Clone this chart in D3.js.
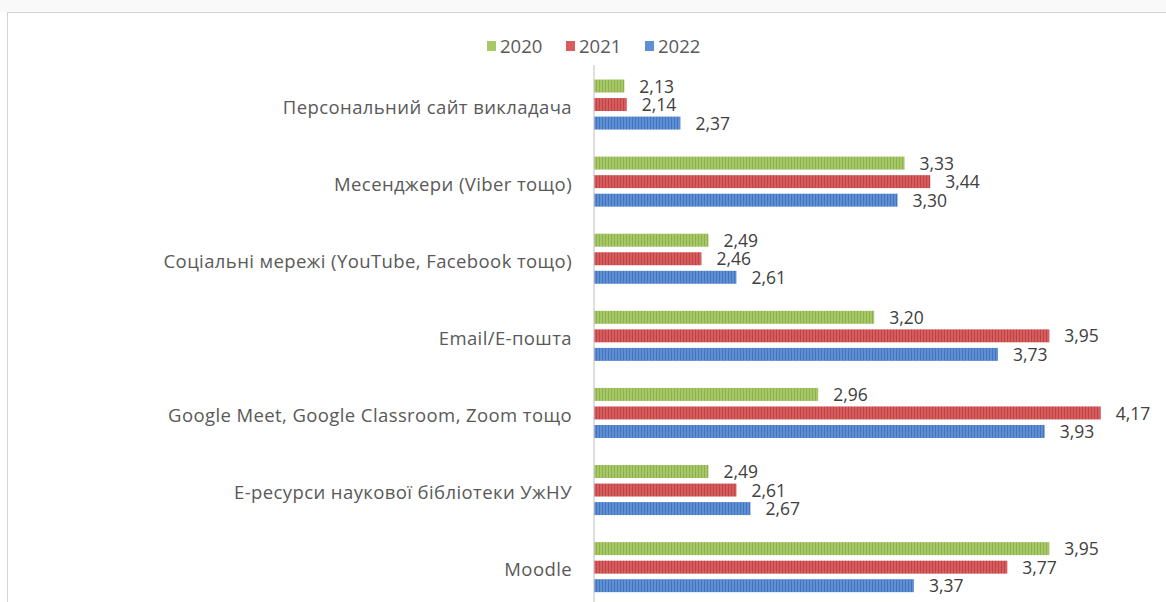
<!DOCTYPE html>
<html>
<head>
<meta charset="utf-8">
<script src="https://cdn.jsdelivr.net/npm/d3@7"></script>
<style>
	body { margin: 0; background: #fff; }
	svg { display: block; }
</style>
</head>
<body>
<div id="chart"></div>
<script>

const categories = [
	"Персональний сайт викладача",
	"Месенджери (Viber тощо)",
	"Соціальні мережі (YouTube, Facebook тощо)",
	"Email/Е-пошта",
	"Google Meet, Google Classroom, Zoom тощо",
	"Е-ресурси наукової бібліотеки УжНУ",
	"Moodle"
]
const years = ["2020", "2021", "2022"]
const values2020 = [2.13, 3.33, 2.49, 3.20, 2.96, 2.49, 3.95]
const values2021 = [2.14, 3.44, 2.46, 3.95, 4.17, 2.61, 3.77]
const values2022 = [2.37, 3.30, 2.61, 3.73, 3.93, 2.67, 3.37]

const width = 1166
const height = 602
const fontFamily = "'Open Sans', 'Noto Sans', sans-serif"
const fontSize = 18.5
const valueFontSize = 17.5

const series = [values2020, values2021, values2022]
const colors = [
	{ base: "#a6c866", stripe: "#8daf4e" },
	{ base: "#d85c5e", stripe: "#bb4446" },
	{ base: "#5e8fd5", stripe: "#4474ba" }
]

const svg = d3.select("#chart").append("svg")
	.attr("width", width)
	.attr("height", height)

// stripe patterns for bars
const defs = svg.append("defs")
colors.forEach((c, i) => {
	const p = defs.append("pattern")
		.attr("id", `stripe-${i}`)
		.attr("patternUnits", "userSpaceOnUse")
		.attr("width", 3)
		.attr("height", 10)
	p.append("rect").attr("width", 3).attr("height", 10).attr("fill", c.base)
	p.append("rect").attr("x", 2).attr("width", 1).attr("height", 10).attr("fill", c.stripe)
})

// frame of the chart area
svg.append("rect")
	.attr("x", 0).attr("y", 0).attr("width", width).attr("height", 12)
	.attr("fill", "#f9f9f9")
svg.append("rect")
	.attr("x", 7.5).attr("y", 12.5)
	.attr("width", width + 10).attr("height", height + 10)
	.attr("fill", "#fff")
	.attr("stroke", "#d4d4d4")

const x = d3.scaleLinear()
	.domain([2, 4.5])
	.range([594, 594 + 2.5 * 233.5])

const y = d3.scaleBand()
	.domain(categories)
	.range([66, 66 + 7 * 77.1])

const ySeries = d3.scaleBand()
	.domain(years)
	.range([0, y.bandwidth()])
	.paddingInner(0.3)
	.paddingOuter(0.73)

const fmt = v => d3.format(".2f")(v).replace(".", ",")

// bars
const groups = svg.append("g").selectAll("g")
	.data(categories)
	.join("g")
	.attr("transform", d => `translate(0, ${y(d)})`)

years.forEach((yr, si) => {
	groups.append("rect")
		.attr("x", x(2))
		.attr("y", ySeries(yr))
		.attr("width", (d, ci) => x(series[si][ci]) - x(2))
		.attr("height", ySeries.bandwidth())
		.attr("fill", `url(#stripe-${si})`)

	groups.append("text")
		.attr("x", (d, ci) => x(series[si][ci]) + 15)
		.attr("y", ySeries(yr) + ySeries.bandwidth() / 2)
		.attr("dy", "0.38em")
		.attr("font-family", fontFamily)
		.attr("font-size", valueFontSize)
		.attr("fill", "#404040")
		.text((d, ci) => fmt(series[si][ci]))
})

// category axis
const yAxis = svg.append("g")
	.attr("transform", `translate(${x(2)}, 0)`)
	.call(d3.axisLeft(y).tickSize(0).tickPadding(22))
yAxis.select(".domain")
	.attr("stroke", "#bfbfbf")
	.attr("d", `M0,65V${height + 10}`)
yAxis.selectAll(".tick text")
	.attr("font-family", fontFamily)
	.attr("font-size", fontSize)
	.attr("letter-spacing", "0.4px")
	.attr("fill", "#595959")
	.attr("dy", "0.5em")

// legend
const legend = svg.append("g")
	.attr("transform", "translate(487, 46)")
const legendItems = legend.selectAll("g")
	.data(years)
	.join("g")
	.attr("transform", (d, i) => `translate(${i * 79}, 0)`)
legendItems.append("rect")
	.attr("x", 0).attr("y", -5)
	.attr("width", 9).attr("height", 10)
	.attr("fill", (d, i) => colors[i].base)
legendItems.append("text")
	.attr("x", 13)
	.attr("dy", "0.36em")
	.attr("font-family", fontFamily)
	.attr("font-size", fontSize)
	.attr("fill", "#595959")
	.text(d => d)

</script>
</body>
</html>
